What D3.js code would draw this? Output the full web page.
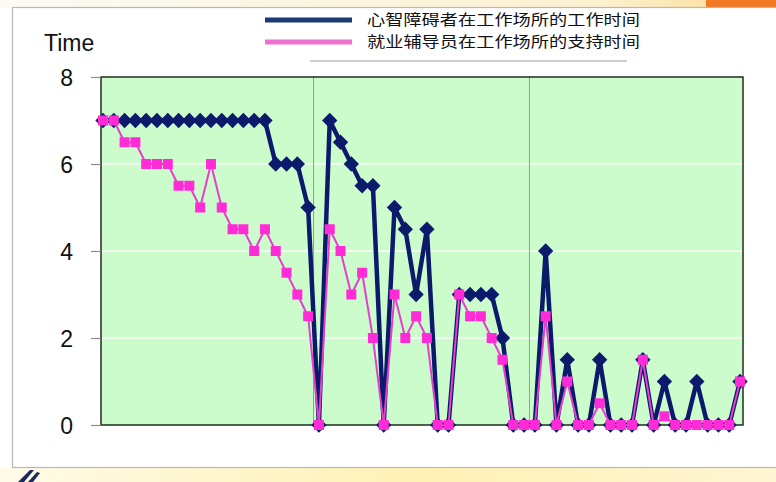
<!DOCTYPE html>
<html>
<head>
<meta charset="utf-8">
<script src="https://cdn.jsdelivr.net/npm/d3@7/dist/d3.min.js"></script>
<style>
  html, body { margin: 0; padding: 0; background: #ffffff; }
  svg { display: block; }
</style>
</head>
<body>
<svg id="chart" width="776" height="482"></svg>
<script>
// Daily hours: worker time on site vs. job-coach support time on site
const seriesNames = ["心智障碍者在工作场所的工作时间", "就业辅导员在工作场所的支持时间"];
const workerHours = [
  7, 7, 7, 7, 7, 7, 7, 7, 7, 7, 7, 7, 7, 7, 7, 7, 6, 6, 6, 5,
  0, 7, 6.5, 6, 5.5, 5.5, 0, 5, 4.5, 3, 4.5, 0, 0, 3, 3, 3, 3, 2, 0, 0,
  0, 4, 0, 1.5, 0, 0, 1.5, 0, 0, 0, 1.5, 0, 1, 0, 0, 1, 0, 0, 0, 1
];
const coachHours = [
  7, 7, 6.5, 6.5, 6, 6, 6, 5.5, 5.5, 5, 6, 5, 4.5, 4.5, 4, 4.5, 4, 3.5, 3, 2.5,
  0, 4.5, 4, 3, 3.5, 2, 0, 3, 2, 2.5, 2, 0, 0, 3, 2.5, 2.5, 2, 1.5, 0, 0,
  0, 2.5, 0, 1, 0, 0, 0.5, 0, 0, 0, 1.5, 0, 0.2, 0, 0, 0, 0, 0, 0, 1
];
const yTicks = [0, 2, 4, 6, 8];
const groupSize = 20;   // sessions per block, separated by vertical lines
const yTitle = "Time";

const navy = "#0c1a6c";
const pinkLine = "#e43fcf";
const pinkMark = "#ff2bd6";

const svg = d3.select("#chart");

// page backdrop around the chart panel
const defs = svg.append("defs");
const bottomGrad = defs.append("linearGradient").attr("id", "bottomGrad");
bottomGrad.append("stop").attr("offset", "0%").attr("stop-color", "#fffbe8");
bottomGrad.append("stop").attr("offset", "55%").attr("stop-color", "#fff1b3");
bottomGrad.append("stop").attr("offset", "100%").attr("stop-color", "#fff6d4");
const topGrad = defs.append("linearGradient").attr("id", "topGrad");
topGrad.append("stop").attr("offset", "0%").attr("stop-color", "#fbfaf4");
topGrad.append("stop").attr("offset", "85%").attr("stop-color", "#fdf1cf");
topGrad.append("stop").attr("offset", "100%").attr("stop-color", "#fbe3a8");

svg.append("rect").attr("x", 0).attr("y", 0).attr("width", 776).attr("height", 482).attr("fill", "#ffffff");
svg.append("rect").attr("x", 0).attr("y", 0).attr("width", 706).attr("height", 8).attr("fill", "url(#topGrad)");
svg.append("rect").attr("x", 706).attr("y", 0).attr("width", 70).attr("height", 8).attr("fill", "#f37a22");
svg.append("rect").attr("x", 0).attr("y", 468).attr("width", 776).attr("height", 14).attr("fill", "url(#bottomGrad)");
// small dark emblem strokes at the lower left
svg.append("path").attr("d", "M18,482 L30,470 L34,470 L24,482 Z").attr("fill", "#1b2a5c");
svg.append("path").attr("d", "M28,482 L37,472 L40,473 L33,482 Z").attr("fill", "#1b2a5c");

// chart panel
svg.append("rect")
  .attr("x", 12.5).attr("y", 7.5).attr("width", 790).attr("height", 460)
  .attr("fill", "#ffffff").attr("stroke", "#b8b8b8").attr("stroke-width", 1.2);

// plot area
const plot = { left: 101, right: 743, top: 77, bottom: 425 };
const n = workerHours.length;
const idx = d3.range(n);

const x = d3.scalePoint().domain(idx).range([103, 740]);
const step = x.step();
const y = d3.scaleLinear().domain([0, 8]).range([plot.bottom, plot.top]);

svg.append("rect")
  .attr("x", plot.left).attr("y", plot.top)
  .attr("width", plot.right - plot.left).attr("height", plot.bottom - plot.top)
  .attr("fill", "#ccfccc");

// horizontal gridlines
svg.append("g").selectAll("line")
  .data(yTicks.filter(t => t > 0 && t < 8))
  .join("line")
  .attr("x1", plot.left).attr("x2", plot.right)
  .attr("y1", d => y(d)).attr("y2", d => y(d))
  .attr("stroke", "#ffffff").attr("stroke-width", 1.5).attr("opacity", 0.9);

// block separators
const dividers = d3.range(1, Math.ceil(n / groupSize)).map(g => g * groupSize - 1);
svg.append("g").selectAll("line")
  .data(dividers)
  .join("line")
  .attr("x1", d => x(d) + step / 2).attr("x2", d => x(d) + step / 2)
  .attr("y1", plot.top).attr("y2", plot.bottom)
  .attr("stroke", "#8aa58a").attr("stroke-width", 1);

// plot frame
svg.append("rect")
  .attr("x", plot.left).attr("y", plot.top)
  .attr("width", plot.right - plot.left).attr("height", plot.bottom - plot.top)
  .attr("fill", "none").attr("stroke", "#1e2e1e").attr("stroke-width", 1.5);

// y axis
const yAxis = d3.axisLeft(y).tickValues(yTicks).tickSize(10).tickPadding(18).tickFormat(d3.format("d"));
const yg = svg.append("g").attr("transform", `translate(${plot.left},0)`).call(yAxis);
yg.select(".domain").remove();
yg.selectAll(".tick line").attr("stroke", "#8a8a8a").attr("stroke-width", 1.2);
yg.selectAll(".tick text")
  .attr("font-family", "'Liberation Sans', Arial, sans-serif")
  .attr("font-size", 23).attr("fill", "#111111")
  .attr("dy", "0.36em");

svg.append("text")
  .attr("x", 44).attr("y", 51)
  .attr("font-family", "'Liberation Sans', Arial, sans-serif")
  .attr("font-size", 23).attr("fill", "#111111")
  .text(yTitle);

// series lines
const line = d3.line().x((d, i) => x(i)).y(d => y(d));

svg.append("path").datum(workerHours)
  .attr("d", line).attr("fill", "none")
  .attr("stroke", navy).attr("stroke-width", 4.5).attr("stroke-linejoin", "round");

svg.append("g").selectAll("path")
  .data(workerHours)
  .join("path")
  .attr("d", d3.symbol(d3.symbolDiamond2, 150)())
  .attr("transform", (d, i) => `translate(${x(i)},${y(d)})`)
  .attr("fill", navy);

svg.append("path").datum(coachHours)
  .attr("d", line).attr("fill", "none")
  .attr("stroke", pinkLine).attr("stroke-width", 2).attr("stroke-linejoin", "round");

svg.append("g").selectAll("rect")
  .data(coachHours)
  .join("rect")
  .attr("x", (d, i) => x(i) - 5).attr("y", d => y(d) - 5)
  .attr("width", 10).attr("height", 10)
  .attr("fill", pinkMark);

// legend
const legend = svg.append("g");
const legendColors = ["#1d3a73", "#f070cf"];
seriesNames.forEach((name, i) => {
  const ly = 20 + i * 22;
  legend.append("line")
    .attr("x1", 265).attr("x2", 352).attr("y1", ly).attr("y2", ly)
    .attr("stroke", legendColors[i]).attr("stroke-width", 5);
  legend.append("text")
    .attr("x", 367).attr("y", ly).attr("dy", "0.36em")
    .attr("font-family", "'Noto Sans CJK SC', sans-serif")
    .attr("font-size", 15).attr("fill", "#111111")
    .attr("textLength", 273).attr("lengthAdjust", "spacingAndGlyphs")
    .text(name);
});
legend.append("line")
  .attr("x1", 310).attr("x2", 627).attr("y1", 61).attr("y2", 61)
  .attr("stroke", "#9a9a9a").attr("stroke-width", 1);
</script>
</body>
</html>
